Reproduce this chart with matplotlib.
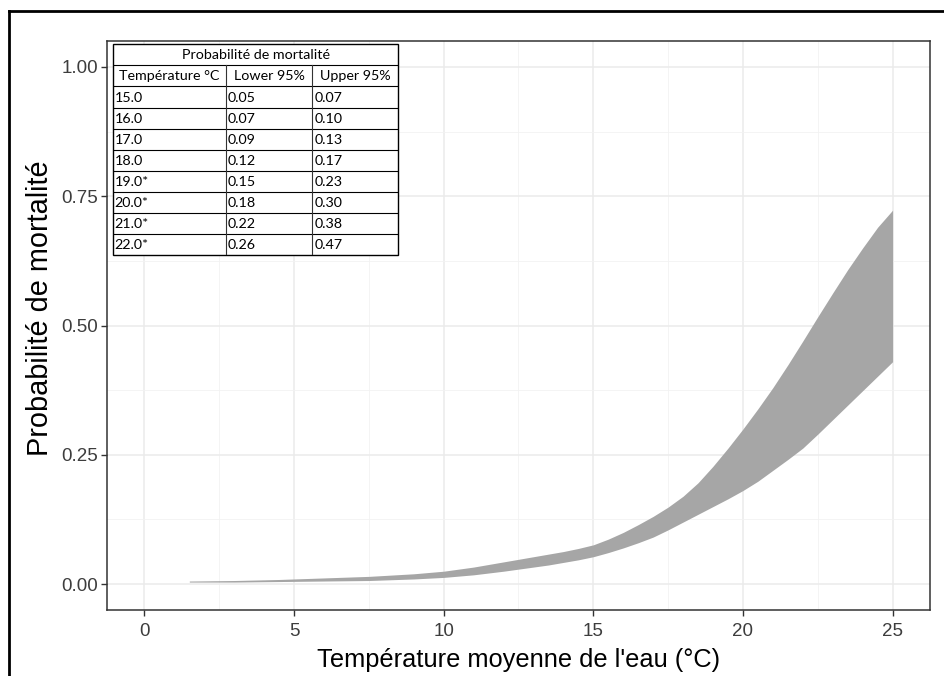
import numpy as np
import matplotlib
matplotlib.use("Agg")
import matplotlib.pyplot as plt
from matplotlib.lines import Line2D
from matplotlib.ticker import MultipleLocator

# mortality probability band (95% CI) vs mean water temperature
temp = [1.5, 3.0, 4.5, 6.0, 7.5, 9.0, 10.0, 11.0, 12.0, 12.5, 13.0, 13.5, 14.0, 14.5,
        15.0, 15.5, 16.0, 16.5, 17.0, 17.5, 18.0, 18.5, 19.0, 19.5, 20.0, 20.5,
        21.0, 21.5, 22.0, 22.5, 23.0, 23.5, 24.0, 24.5, 25.0]
lower = [0.004, 0.004, 0.005, 0.006, 0.007, 0.010, 0.013, 0.018, 0.025, 0.029, 0.033, 0.037, 0.042, 0.047,
         0.053, 0.061, 0.07, 0.08, 0.091, 0.105, 0.12, 0.135, 0.15, 0.165, 0.181, 0.199,
         0.22, 0.241, 0.263, 0.29, 0.318, 0.346, 0.374, 0.402, 0.43]
upper = [0.006, 0.007, 0.009, 0.012, 0.015, 0.020, 0.025, 0.033, 0.043, 0.048, 0.053, 0.058, 0.063, 0.069,
         0.076, 0.087, 0.10, 0.115, 0.131, 0.149, 0.17, 0.196, 0.228, 0.263, 0.30, 0.339,
         0.38, 0.424, 0.47, 0.517, 0.563, 0.608, 0.650, 0.690, 0.723]

# inset table
table_title = "Probabilité de mortalité"
table_header = ["Température °C", "Lower 95%", "Upper 95%"]
table_temp = ["15.0", "16.0", "17.0", "18.0", "19.0*", "20.0*", "21.0*", "22.0*"]
table_lower = ["0.05", "0.07", "0.09", "0.12", "0.15", "0.18", "0.22", "0.26"]
table_upper = ["0.07", "0.10", "0.13", "0.17", "0.23", "0.30", "0.38", "0.47"]

plt.rcParams['font.family'] = ['Liberation Sans', 'DejaVu Sans']

W, H = 944, 676
fig = plt.figure(figsize=(W / 100, H / 100), dpi=100)

def px_axes(x0, y0, x1, y1):
    return fig.add_axes([x0 / W, 1 - y1 / H, (x1 - x0) / W, (y1 - y0) / H])

ax = px_axes(107, 41, 930, 610)
ax.fill_between(temp, lower, upper, color='#a6a6a6', linewidth=0, zorder=2)

ax.set_xlim(-1.25, 26.25)
ax.set_ylim(-0.05, 1.05)
ax.xaxis.set_major_locator(MultipleLocator(5))
ax.xaxis.set_minor_locator(MultipleLocator(2.5))
ax.yaxis.set_major_locator(MultipleLocator(0.25))
ax.yaxis.set_minor_locator(MultipleLocator(0.125))
ax.yaxis.set_major_formatter(lambda v, p: f"{v:.2f}")
ax.grid(which='major', color='#ebebeb', lw=1.1, zorder=0)
ax.grid(which='minor', color='#f2f2f2', lw=0.6, zorder=0)
ax.set_axisbelow(True)
for s in ax.spines.values():
    s.set_color('#333333')
    s.set_linewidth(1.1)
ax.tick_params(which='major', length=4.3, width=1, color='#333333',
               labelcolor='#3d3d3d', labelsize=13.5)
ax.tick_params(axis='x', pad=5)
ax.tick_params(axis='y', pad=2)
ax.tick_params(which='minor', length=0)

fig.text(518.5 / W, 1 - 660 / H, "Température moyenne de l'eau (°C)",
         fontsize=18.3, ha='center', va='center')
fig.text(40 / W, 1 - 308 / H, "Probabilité de mortalité",
         fontsize=20.8, ha='center', va='center', rotation=90)

# outer frame (top and left edges)
fig.add_artist(Line2D([9 / W, 1], [1 - 11 / H, 1 - 11 / H], color='black', lw=2,
                      transform=fig.transFigure))
fig.add_artist(Line2D([9 / W, 9 / W], [0, 1 - 11 / H], color='black', lw=2,
                      transform=fig.transFigure))

# table drawn in its own pixel-space axes
tx0, ty0, tx1, ty1 = 112.7, 44.3, 398.3, 255
tax = px_axes(tx0, ty0, tx1, ty1)
tw, th = tx1 - tx0, ty1 - ty0
tax.set_xlim(0, tw)
tax.set_ylim(th, 0)
tax.axis('off')
tax.add_patch(plt.Rectangle((0, 0), tw, th, facecolor='white', edgecolor='black',
                            lw=1, clip_on=False))
cols = [0, 113.3, 199.6, tw]
n_rows = len(table_temp) + 2
rows = np.linspace(0, th, n_rows + 1)
for y in rows[1:-1]:
    tax.plot([0, tw], [y, y], color='black', lw=0.8)
for x in cols[1:-1]:
    tax.plot([x, x], [rows[1], th], color='#333333', lw=0.8)

tfont = dict(family=['Lato', 'DejaVu Sans'], fontsize=10.3, color='black')
tax.text(tw / 2, (rows[0] + rows[1]) / 2, table_title, ha='center', va='center', **tfont)
for j, label in enumerate(table_header):
    tax.text((cols[j] + cols[j + 1]) / 2, (rows[1] + rows[2]) / 2, label,
             ha='center', va='center', **tfont)
for i, vals in enumerate(zip(table_temp, table_lower, table_upper)):
    yc = (rows[i + 2] + rows[i + 3]) / 2 + 1
    for j, v in enumerate(vals):
        tax.text(cols[j] + 2, yc, v, ha='left', va='center', **tfont)

fig.savefig("out.png", dpi=100)
